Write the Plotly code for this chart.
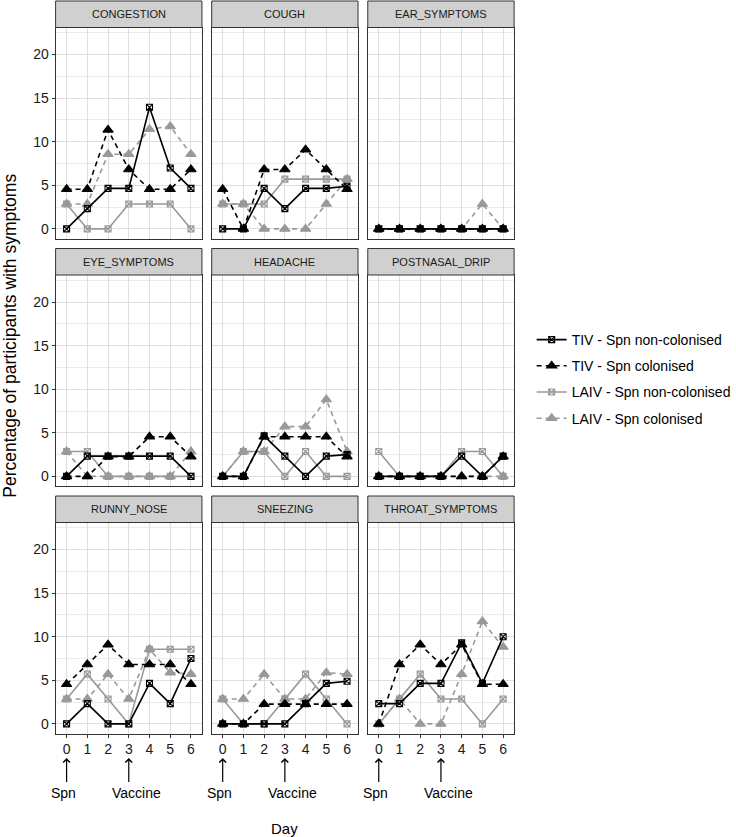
import plotly.graph_objects as go

# ---------------- data ----------------
days = [0, 1, 2, 3, 4, 5, 6]
day_ticks = ["0", "1", "2", "3", "4", "5", "6"]
symptoms = ["CONGESTION", "COUGH", "EAR_SYMPTOMS",
            "EYE_SYMPTOMS", "HEADACHE", "POSTNASAL_DRIP",
            "RUNNY_NOSE", "SNEEZING", "THROAT_SYMPTOMS"]
group_names = ["TIV - Spn non-colonised", "TIV - Spn colonised",
               "LAIV - Spn non-colonised", "LAIV - Spn colonised"]

tiv_noncol = {
    "CONGESTION":      [0, 2.33, 4.65, 4.65, 13.95, 6.98, 4.65],
    "COUGH":           [0, 0, 4.65, 2.33, 4.65, 4.65, 4.9],
    "EAR_SYMPTOMS":    [0, 0, 0, 0, 0, 0, 0],
    "EYE_SYMPTOMS":    [0, 2.33, 2.33, 2.33, 2.33, 2.33, 0],
    "HEADACHE":        [0, 0, 4.65, 2.33, 0, 2.33, 2.5],
    "POSTNASAL_DRIP":  [0, 0, 0, 0, 2.33, 0, 2.33],
    "RUNNY_NOSE":      [0, 2.33, 0, 0, 4.65, 2.33, 7.5],
    "SNEEZING":        [0, 0, 0, 0, 2.33, 4.65, 4.9],
    "THROAT_SYMPTOMS": [2.33, 2.33, 4.65, 4.65, 9.3, 4.65, 10.0],
}
tiv_col = {
    "CONGESTION":      [4.55, 4.55, 11.36, 6.82, 4.55, 4.55, 6.82],
    "COUGH":           [4.55, 0, 6.82, 6.82, 9.09, 6.82, 4.55],
    "EAR_SYMPTOMS":    [0, 0, 0, 0, 0, 0, 0],
    "EYE_SYMPTOMS":    [0, 0, 2.27, 2.27, 4.55, 4.55, 2.27],
    "HEADACHE":        [0, 0, 4.55, 4.55, 4.55, 4.55, 2.27],
    "POSTNASAL_DRIP":  [0, 0, 0, 0, 0, 0, 2.27],
    "RUNNY_NOSE":      [4.55, 6.82, 9.09, 6.82, 6.82, 6.82, 4.55],
    "SNEEZING":        [0, 0, 2.27, 2.27, 2.27, 2.27, 2.27],
    "THROAT_SYMPTOMS": [0, 6.82, 9.09, 6.82, 9.09, 4.55, 4.55],
}
laiv_noncol = {
    "CONGESTION":      [2.86, 0, 0, 2.86, 2.86, 2.86, 0],
    "COUGH":           [2.86, 2.86, 2.86, 5.71, 5.71, 5.71, 5.71],
    "EAR_SYMPTOMS":    [0, 0, 0, 0, 0, 0, 0],
    "EYE_SYMPTOMS":    [2.86, 2.86, 0, 0, 0, 0, 0],
    "HEADACHE":        [0, 2.86, 2.86, 0, 2.86, 0, 0],
    "POSTNASAL_DRIP":  [2.86, 0, 0, 0, 2.86, 2.86, 0],
    "RUNNY_NOSE":      [2.86, 5.71, 2.86, 0, 8.57, 8.57, 8.57],
    "SNEEZING":        [2.86, 0, 0, 2.86, 5.71, 2.86, 0],
    "THROAT_SYMPTOMS": [0, 2.86, 5.71, 2.86, 2.86, 0, 2.86],
}
laiv_col = {
    "CONGESTION":      [2.86, 2.86, 8.57, 8.57, 11.43, 11.76, 8.57],
    "COUGH":           [2.86, 2.86, 0, 0, 0, 2.86, 5.71],
    "EAR_SYMPTOMS":    [0, 0, 0, 0, 0, 2.86, 0],
    "EYE_SYMPTOMS":    [2.86, 0, 0, 0, 0, 0, 2.86],
    "HEADACHE":        [0, 2.86, 2.86, 5.71, 5.71, 8.82, 2.86],
    "POSTNASAL_DRIP":  [0, 0, 0, 0, 0, 0, 0],
    "RUNNY_NOSE":      [2.86, 2.86, 5.71, 2.86, 8.57, 5.88, 5.71],
    "SNEEZING":        [2.86, 2.86, 5.71, 2.86, 2.86, 5.88, 5.71],
    "THROAT_SYMPTOMS": [0, 2.86, 0, 0, 5.71, 11.76, 8.82],
}

# ---------------- styles ----------------
W, H = 736, 837
BLACK = "#000000"
GREY = "#999999"
DASH = "5px,4px"
styles = {
    "TIV - Spn non-colonised": dict(color=BLACK, dash="solid", symbol="square-x-open", msize=6),
    "TIV - Spn colonised": dict(color=BLACK, dash=DASH, symbol="triangle-up", msize=9),
    "LAIV - Spn non-colonised": dict(color=GREY, dash="solid", symbol="square-x-open", msize=6),
    "LAIV - Spn colonised": dict(color=GREY, dash=DASH, symbol="triangle-up", msize=9),
}
series = {
    "TIV - Spn non-colonised": tiv_noncol,
    "TIV - Spn colonised": tiv_col,
    "LAIV - Spn non-colonised": laiv_noncol,
    "LAIV - Spn colonised": laiv_col,
}
draw_order = ["LAIV - Spn colonised", "LAIV - Spn non-colonised",
              "TIV - Spn non-colonised", "TIV - Spn colonised"]

# panel geometry (pixels)
cols_px = [(57, 207), (217, 367), (377, 527)]
row_tops = [1, 248.5, 496]
STRIP_H = 26.5
PLOT_H = 211

def px_x(p):
    return p / W

def px_y(p):
    return 1 - p / H

fig = go.Figure()
layout = dict(
    width=W, height=H,
    margin=dict(l=0, r=0, t=0, b=0),
    paper_bgcolor="white", plot_bgcolor="white",
    font=dict(family="Liberation Sans, Arial, sans-serif", size=14, color="#1a1a1a"),
    showlegend=True,
)
shapes = []
annotations = []

for i, sym in enumerate(symptoms):
    r, c = divmod(i, 3)
    n = i + 1
    xa = "xaxis" if n == 1 else f"xaxis{n}"
    ya = "yaxis" if n == 1 else f"yaxis{n}"
    xr = "x" if n == 1 else f"x{n}"
    yr = "y" if n == 1 else f"y{n}"
    x0p, x1p = cols_px[c]
    stop = row_tops[r]
    ptop = stop + STRIP_H
    pbot = ptop + PLOT_H

    for g in draw_order:
        st = styles[g]
        fig.add_trace(go.Scatter(
            x=days, y=series[g][sym], mode="lines+markers",
            name=g, legendgroup=g, showlegend=(i == 0),
            legendrank=group_names.index(g) + 1,
            line=dict(color=st["color"], width=1.6, dash=st["dash"]),
            marker=dict(symbol=st["symbol"], size=st["msize"], color=st["color"],
                        line=dict(color=st["color"], width=1.1)),
            xaxis=xr, yaxis=yr, cliponaxis=False,
        ))

    layout[xa] = dict(
        domain=[px_x(x0p), px_x(x1p)], anchor=yr,
        range=[-0.53, 6.53], tickmode="array", tickvals=days, ticktext=day_ticks,
        showgrid=True, gridcolor="#dedede", gridwidth=1,
        zeroline=False, showline=True, linecolor="#333333", linewidth=1, mirror=True,
        ticks="outside" if r == 2 else "", ticklen=3, tickcolor="#333333",
        showticklabels=(r == 2), tickfont=dict(size=14, color="#1a1a1a"),
        fixedrange=True,
    )
    layout[ya] = dict(
        domain=[px_y(pbot), px_y(ptop)], anchor=xr,
        range=[-1.1, 23.1], tickmode="array", tickvals=[0, 5, 10, 15, 20],
        showgrid=True, gridcolor="#dedede", gridwidth=1,
        minor=dict(tickvals=[2.5, 7.5, 12.5, 17.5, 22.5], showgrid=True,
                   gridcolor="#ececec", gridwidth=0.7),
        zeroline=False, showline=True, linecolor="#333333", linewidth=1, mirror=True,
        ticks="outside" if c == 0 else "", ticklen=3, tickcolor="#333333",
        showticklabels=(c == 0), tickfont=dict(size=14, color="#1a1a1a"),
        fixedrange=True,
    )
    # strip
    shapes.append(dict(type="rect", xref="paper", yref="paper",
                       x0=px_x(x0p), x1=px_x(x1p), y0=px_y(ptop), y1=px_y(stop),
                       fillcolor="#d0d0d0", line=dict(color="#333333", width=1),
                       layer="above"))
    annotations.append(dict(text=sym, xref="paper", yref="paper",
                            x=px_x((x0p + x1p) / 2), y=px_y(stop + STRIP_H / 2),
                            showarrow=False, xanchor="center", yanchor="middle",
                            font=dict(size=11, color="#1a1a1a")))

    # arrows under bottom row
    if r == 2:
        for dval, label, shift in [(0, "Spn", -3), (3, "Vaccine", 8)]:
            annotations.append(dict(
                text=" ", xref=xr, yref="paper", x=dval, y=px_y(758),
                showarrow=True, ax=0, ay=26, axref="pixel", ayref="pixel",
                arrowhead=4, arrowsize=1.1, arrowwidth=1.2, arrowcolor="#000000",
                font=dict(size=1)))
            annotations.append(dict(
                text=label, xref=xr, yref="paper", x=dval, y=px_y(793),
                xshift=shift, showarrow=False, xanchor="center", yanchor="middle",
                font=dict(size=14, color="#000000")))

# axis titles
annotations.append(dict(text="Day", xref="paper", yref="paper",
                        x=px_x(292), y=px_y(828), showarrow=False,
                        xanchor="center", yanchor="middle",
                        font=dict(size=15, color="#000000")))
annotations.append(dict(text="Percentage of participants with symptoms",
                        xref="paper", yref="paper", x=px_x(10), y=px_y(336),
                        showarrow=False, textangle=-90,
                        xanchor="center", yanchor="middle",
                        font=dict(size=17.5, color="#000000")))

layout["shapes"] = shapes
layout["annotations"] = annotations
layout["legend"] = dict(
    x=px_x(545), y=px_y(324), xanchor="left", yanchor="top",
    bgcolor="rgba(0,0,0,0)", font=dict(size=14, color="#000000"),
    tracegroupgap=5, itemwidth=30,
)
fig.update_layout(**layout)
fig.write_html("out.html",
               config={"displayModeBar": False},
               post_script="document.body.style.margin='0';document.body.style.padding='0';")
